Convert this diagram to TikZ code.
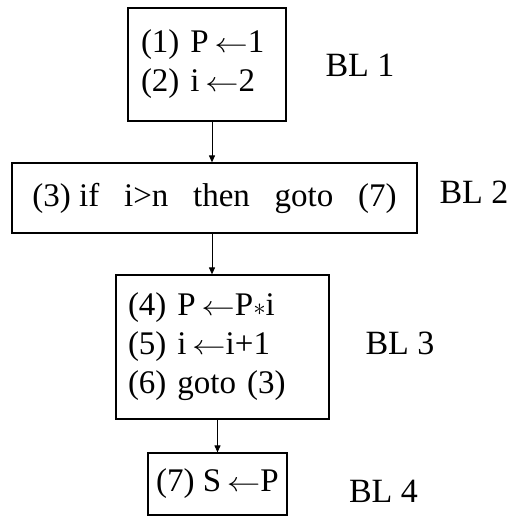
\documentclass[tikz,border=0pt]{standalone}
\usepackage{fontspec}
\setmainfont{Liberation Serif}
\usetikzlibrary{arrows.meta}
\newcommand{\asg}{\,\scalebox{1.35}[1.1]{$\leftarrow$}}
\begin{document}
\begin{tikzpicture}[x=1pt,y=1pt,
		blockbox/.style={draw,line width=1.2pt,align=left,inner sep=0pt,font=\fontsize{33}{39}\selectfont},
		bltag/.style={font=\fontsize{34}{40}\selectfont,inner sep=0pt},
		flow/.style={line width=1pt,-{Triangle[length=7pt,width=6pt]}}]
	\useasboundingbox (0,0) rectangle (514,517);
	\node[blockbox,minimum width=158,minimum height=113,inner xsep=13,text width=132] (b1) at (207,452.5) {(1) P\asg 1\\(2) i\asg 2};
	\node[blockbox,minimum width=405,minimum height=70] (b2) at (214.5,319) {(3) if\hspace{0.75em}i>n\hspace{0.75em}then\hspace{0.75em}goto\hspace{0.75em}(7)};
	\node[blockbox,minimum width=213,minimum height=144,inner xsep=12,text width=189] (b3) at (222.5,170) {(4) P\asg P$\ast$i\\(5) i\asg i+1\\(6) goto (3)};
	\node[blockbox,minimum width=139,minimum height=62] (b4) at (217.5,33) {(7) S\asg P};
	\node[bltag] (t1) at (360,451.5) {BL 1};
	\node[bltag] (t2) at (474,325) {BL 2};
	\node[bltag] (t3) at (400,173.5) {BL 3};
	\node[bltag] (t4) at (383.5,26) {BL 4};
	\draw[flow] ([xshift=5pt]b1.south) -- ([xshift=5pt]b1.south |- b2.north);
	\draw[flow] ([xshift=-2.5pt]b2.south) -- ([xshift=-2.5pt]b2.south |- b3.north);
	\draw[flow] (b4.north |- b3.south) -- (b4.north);
\end{tikzpicture}
\end{document}
